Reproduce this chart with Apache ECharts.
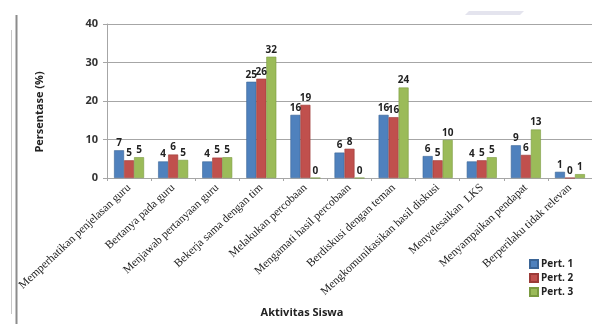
<!DOCTYPE html>
<html>
<head>
<meta charset="utf-8">
<script src="https://cdn.jsdelivr.net/npm/echarts@6/dist/echarts.min.js"></script>
<style>
    html,body{margin:0;padding:0;background:#fff;}
    #chart{width:592px;height:324px;}
</style>
</head>
<body>
<div id="chart"></div>
<script>
// 类别
let categories = [
    'Memperhatikan penjelasan guru',
    'Bertanya pada guru',
    'Menjawab pertanyaan guru',
    'Bekerja sama dengan tim',
    'Melakukan percobaan',
    'Mengamati hasil percobaan',
    'Berdiskusi dengan teman',
    'Mengkomunikasikan hasil diskusi',
    'Menyelesaikan  LKS',
    'Menyampaikan pendapat',
    'Berperilaku tidak relevan'
]
let series_names = ['Pert. 1', 'Pert. 2', 'Pert. 3']

// 柱高度
let pert1 = [7.2, 4.3, 4.3, 25.0, 16.4, 6.6, 16.4, 5.7, 4.3, 8.5, 1.6]
let pert2 = [4.6, 6.1, 5.3, 25.8, 19.0, 7.6, 15.8, 4.6, 4.6, 6.0, 0]
let pert3 = [5.4, 4.7, 5.4, 31.5, 0, 0, 23.5, 9.9, 5.4, 12.6, 1.0]

// 柱上标签
let label1 = [7, 4, 4, 25, 16, 6, 16, 6, 4, 9, 1]
let label2 = [5, 6, 5, 26, 19, 8, 16, 5, 5, 6, 0]
let label3 = [5, 5, 5, 32, 0, 0, 24, 10, 5, 13, 1]

let y_ticks = [0, 10, 20, 30, 40]

let colors = ['#4F81BD', '#C0504D', '#9BBB59']
let borders = ['#3A6496', '#9B3B38', '#7A9A40']

let make_series = function(i, data, labels){
    return {
        name: series_names[i],
        type: 'bar',
        data: data,
        barWidth: 10,
        barGap: '0%',
        itemStyle: {
            color: colors[i],
            borderColor: borders[i],
            borderWidth: 0.6
        },
        label: {
            show: true,
            position: 'top',
            distance: 2,
            fontFamily: 'Open Sans',
            fontWeight: 'bold',
            fontSize: 10,
            color: '#222',
            formatter: p => String(labels[p.dataIndex])
        }
    }
}

var mychart = echarts.init(document.getElementById('chart'))
mychart.setOption({
    animation: false,
    color: colors,
    grid: {
        left: 107,
        top: 24,
        width: 487,
        height: 154
    },
    legend: {
        orient: 'vertical',
        left: 524,
        top: 254,
        itemWidth: 8,
        itemHeight: 8,
        itemGap: 4,
        icon: 'rect',
        textStyle: {
            fontFamily: 'Open Sans',
            fontWeight: 'bold',
            fontSize: 10,
            color: '#222',
            padding: [0, 0, 0, -2]
        },
        data: series_names
    },
    xAxis: {
        type: 'category',
        data: categories,
        axisLine: {lineStyle: {color: '#A6A6A6', width: 1}},
        axisTick: {show: true, length: 3, lineStyle: {color: '#A6A6A6'}},
        axisLabel: {
            rotate: 43,
            interval: 0,
            margin: 8,
            fontFamily: 'Liberation Serif',
            fontSize: 11.5,
            color: '#222'
        }
    },
    yAxis: {
        type: 'value',
        min: y_ticks[0],
        max: y_ticks[y_ticks.length - 1],
        interval: 10,
        axisLine: {show: true, lineStyle: {color: '#A6A6A6'}},
        axisTick: {show: true, length: 4, lineStyle: {color: '#A6A6A6'}},
        splitLine: {lineStyle: {color: '#A6A6A6', width: 1}},
        axisLabel: {
            margin: 9,
            fontFamily: 'Open Sans',
            fontWeight: 'bold',
            fontSize: 11,
            color: '#333'
        }
    },
    graphic: [
        {
            type: 'text',
            x: 40,
            y: 112,
            rotation: Math.PI / 2,
            style: {
                text: 'Persentase (%)',
                fontFamily: 'Open Sans',
                fontWeight: 'bold',
                fontSize: 11,
                fill: '#222',
                align: 'center',
                verticalAlign: 'middle'
            }
        },
        {
            type: 'text',
            x: 302,
            y: 313,
            style: {
                text: 'Aktivitas Siswa',
                fontFamily: 'Open Sans',
                fontWeight: 'bold',
                fontSize: 11,
                fill: '#222',
                align: 'center',
                verticalAlign: 'middle'
            }
        },
        {
            type: 'line',
            shape: {x1: 16.5, y1: 15, x2: 16.5, y2: 324},
            style: {stroke: '#8C8C8C', lineWidth: 2}
        },
        {
            type: 'line',
            shape: {x1: 11.5, y1: 30, x2: 11.5, y2: 314},
            style: {stroke: '#C8C8C8', lineWidth: 1}
        },
        {
            type: 'polygon',
            shape: {points: [[465, 15], [520, 15], [524, 11], [469, 11]]},
            style: {fill: '#E4E4EE'}
        }
    ],
    series: [
        make_series(0, pert1, label1),
        make_series(1, pert2, label2),
        make_series(2, pert3, label3)
    ]
})
</script>
</body>
</html>
